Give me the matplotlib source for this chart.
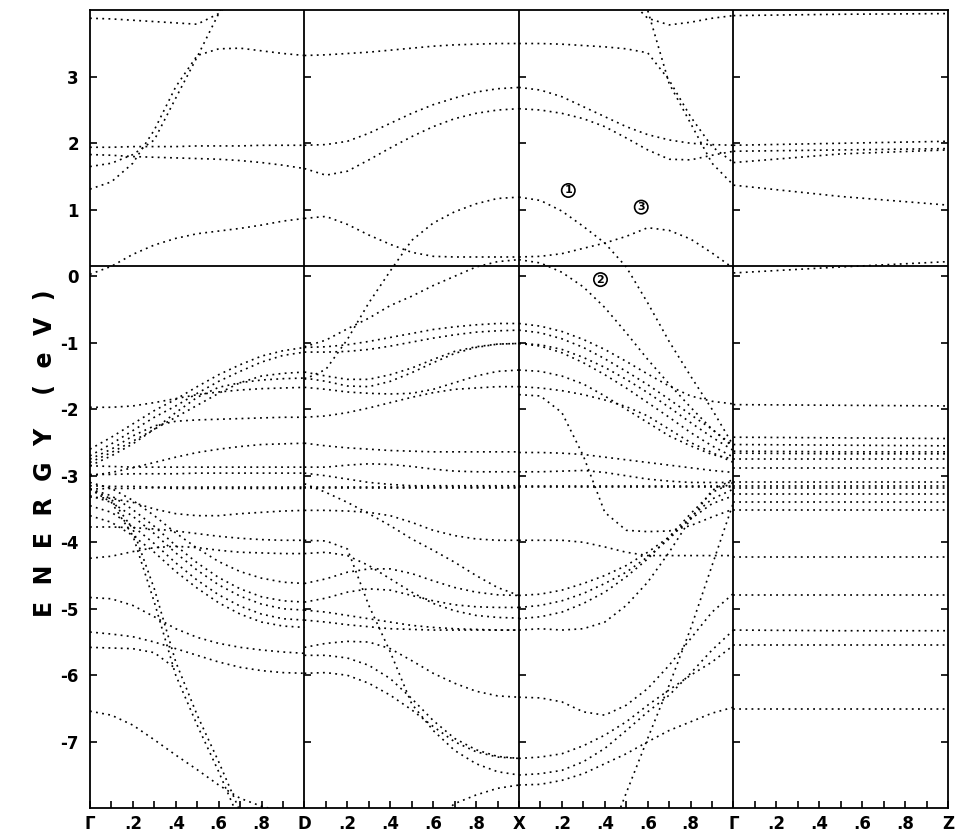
import numpy as np
import matplotlib
matplotlib.use("Agg")
import matplotlib.pyplot as plt

nan = np.nan

# symmetry points and tick labels along the path
panel_labels = ["Γ", "D", "X", "Γ", "Z"]
frac_labels = ["", ".2", "", ".4", "", ".6", "", ".8", ""]
e_ticks = [-7, -6, -5, -4, -3, -2, -1, 0, 1, 2, 3]
e_fermi = 0.15

# bands, energy (eV) at k = 0, .1, ... 1.0 of each branch
gd_bands = [
    [3.88, 3.87, 3.85, 3.83, 3.81, 3.79, 3.95, 4.3, nan, nan, nan],
    [1.94, 1.94, 1.95, 1.95, 1.95, 1.96, 1.96, 1.96, 1.97, 1.97, 1.97],
    [1.83, 1.82, 1.80, 1.79, 1.78, 1.77, 1.76, 1.74, 1.71, 1.67, 1.62],
    [1.65, 1.70, 1.83, 2.05, 2.68, 3.30, 3.95, 4.6, nan, nan, nan],
    [1.31, 1.42, 1.70, 2.20, 2.85, 3.32, 3.42, 3.43, 3.39, 3.35, 3.32],
    [0.03, 0.15, 0.33, 0.47, 0.57, 0.64, 0.68, 0.72, 0.77, 0.83, 0.87],
    [-2.60, -2.42, -2.22, -2.02, -1.85, -1.66, -1.48, -1.33, -1.20, -1.12, -1.07],
    [-2.70, -2.52, -2.32, -2.12, -1.95, -1.76, -1.58, -1.43, -1.29, -1.19, -1.14],
    [-2.80, -2.65, -2.48, -2.30, -2.12, -1.94, -1.76, -1.60, -1.50, -1.46, -1.44],
    [-2.85, -2.70, -2.52, -2.30, -2.05, -1.82, -1.67, -1.60, -1.56, -1.54, -1.53],
    [-1.97, -1.97, -1.95, -1.90, -1.84, -1.78, -1.74, -1.71, -1.69, -1.68, -1.67],
    [-2.75, -2.60, -2.40, -2.25, -2.18, -2.16, -2.15, -2.14, -2.13, -2.12, -2.12],
    [-3.00, -2.95, -2.88, -2.80, -2.72, -2.65, -2.60, -2.56, -2.53, -2.52, -2.51],
    [-2.85, -2.86, -2.87, -2.87, -2.87, -2.87, -2.87, -2.87, -2.87, -2.87, -2.87],
    [-2.98, -2.98, -2.97, -2.97, -2.97, -2.96, -2.96, -2.96, -2.96, -2.96, -2.96],
    [-3.15, -3.16, -3.16, -3.17, -3.17, -3.17, -3.17, -3.17, -3.17, -3.17, -3.17],
    [-3.20, -3.19, -3.19, -3.18, -3.19, -3.19, -3.19, -3.19, -3.19, -3.19, -3.19],
    [-3.32, -3.34, -3.40, -3.50, -3.57, -3.60, -3.60, -3.57, -3.55, -3.53, -3.52],
    [-3.77, -3.77, -3.78, -3.80, -3.83, -3.87, -3.91, -3.94, -3.96, -3.97, -3.97],
    [-4.24, -4.21, -4.14, -4.08, -4.06, -4.08, -4.12, -4.15, -4.16, -4.17, -4.17],
    [-3.10, -3.19, -3.37, -3.60, -3.86, -4.09, -4.29, -4.44, -4.54, -4.60, -4.62],
    [-3.20, -3.30, -3.51, -3.76, -4.05, -4.31, -4.53, -4.70, -4.82, -4.88, -4.90],
    [-3.30, -3.40, -3.61, -3.87, -4.16, -4.42, -4.64, -4.81, -4.93, -5.00, -5.02],
    [-3.45, -3.55, -3.76, -4.02, -4.31, -4.57, -4.79, -4.96, -5.08, -5.15, -5.17],
    [-3.60, -3.70, -3.90, -4.15, -4.44, -4.69, -4.91, -5.08, -5.20, -5.26, -5.28],
    [-4.83, -4.85, -4.95, -5.12, -5.30, -5.43, -5.52, -5.58, -5.62, -5.65, -5.67],
    [-5.35, -5.38, -5.42, -5.50, -5.60, -5.70, -5.80, -5.88, -5.93, -5.96, -5.97],
    [-5.58, -5.59, -5.60, -5.66, -5.90, nan, nan, nan, nan, nan, nan],
    [-3.20, -3.40, -3.90, -4.90, -6.00, -6.75, -7.45, -8.20, nan, nan, nan],
    [-3.20, -3.35, -3.80, -4.70, -5.80, -6.60, -7.30, -8.05, -8.60, nan, nan],
    [-6.54, -6.60, -6.75, -6.97, -7.20, -7.42, -7.65, -7.85, -7.97, -8.05, -8.10],
]

dx_bands = [
    [3.32, 3.33, 3.35, 3.37, 3.40, 3.43, 3.46, 3.48, 3.49, 3.50, 3.50],
    [1.97, 1.98, 2.03, 2.15, 2.30, 2.45, 2.58, 2.68, 2.77, 2.82, 2.84],
    [1.62, 1.52, 1.58, 1.75, 1.93, 2.10, 2.25, 2.37, 2.45, 2.50, 2.52],
    [0.87, 0.90, 0.78, 0.62, 0.48, 0.36, 0.30, 0.29, 0.29, 0.29, 0.29],
    [-1.55, -1.40, -0.95, -0.40, 0.08, 0.54, 0.80, 0.97, 1.09, 1.17, 1.19],
    [-1.06, -0.96, -0.79, -0.63, -0.44, -0.30, -0.14, 0.00, 0.14, 0.22, 0.25],
    [-1.07, -1.06, -1.03, -0.98, -0.92, -0.86, -0.80, -0.76, -0.73, -0.71, -0.71],
    [-1.14, -1.14, -1.13, -1.10, -1.05, -0.99, -0.93, -0.88, -0.84, -0.82, -0.81],
    [-1.44, -1.50, -1.55, -1.55, -1.48, -1.38, -1.25, -1.13, -1.06, -1.02, -1.01],
    [-1.53, -1.58, -1.65, -1.66, -1.58, -1.45, -1.30, -1.16, -1.07, -1.02, -1.01],
    [-1.67, -1.70, -1.74, -1.76, -1.77, -1.76, -1.70, -1.60, -1.50, -1.43, -1.41],
    [-2.12, -2.10, -2.05, -1.98, -1.90, -1.82, -1.75, -1.70, -1.68, -1.66, -1.66],
    [-2.51, -2.55, -2.58, -2.60, -2.62, -2.63, -2.64, -2.64, -2.64, -2.64, -2.64],
    [-2.87, -2.87, -2.84, -2.82, -2.83, -2.86, -2.90, -2.93, -2.94, -2.94, -2.94],
    [-2.96, -3.00, -3.05, -3.10, -3.13, -3.15, -3.15, -3.15, -3.15, -3.15, -3.15],
    [-3.17, -3.17, -3.17, -3.17, -3.17, -3.17, -3.17, -3.17, -3.17, -3.17, -3.17],
    [-3.19, -3.19, -3.19, -3.19, -3.19, -3.19, -3.19, -3.19, -3.19, -3.19, -3.19],
    [-3.52, -3.52, -3.53, -3.55, -3.60, -3.70, -3.82, -3.90, -3.95, -3.97, -3.97],
    [-3.12, -3.25, -3.40, -3.57, -3.75, -3.95, -4.12, -4.30, -4.50, -4.68, -4.80],
    [-3.97, -3.98, -4.10, -4.95, -5.65, -6.43, -6.83, -7.13, -7.33, -7.45, -7.50],
    [-4.17, -4.15, -4.20, -4.35, -4.55, -4.75, -4.92, -5.03, -5.10, -5.13, -5.14],
    [-4.62, -4.55, -4.45, -4.40, -4.40, -4.47, -4.58, -4.68, -4.75, -4.79, -4.80],
    [-4.90, -4.84, -4.75, -4.70, -4.72, -4.80, -4.88, -4.94, -4.97, -4.98, -4.98],
    [-5.02, -5.05, -5.10, -5.15, -5.20, -5.25, -5.28, -5.30, -5.31, -5.32, -5.32],
    [-5.17, -5.20, -5.24, -5.27, -5.30, -5.31, -5.32, -5.32, -5.32, -5.32, -5.32],
    [-5.58, -5.52, -5.49, -5.50, -5.60, -5.78, -5.97, -6.12, -6.24, -6.31, -6.33],
    [-5.70, -5.70, -5.74, -5.85, -6.05, -6.35, -6.68, -6.95, -7.12, -7.22, -7.25],
    [-5.97, -5.96, -6.00, -6.12, -6.30, -6.52, -6.77, -7.00, -7.15, -7.23, -7.25],
    [nan, nan, nan, nan, nan, nan, -8.20, -7.93, -7.80, -7.70, -7.65],
]

xg_bands = [
    [3.50, 3.50, 3.49, 3.47, 3.45, 3.42, 3.36, 2.95, 2.40, 1.95, 1.71],
    [nan, nan, nan, nan, nan, 5.00, 4.00, 2.90, 2.30, 1.70, 1.37],
    [nan, nan, nan, nan, nan, 4.20, 3.88, 3.78, 3.82, 3.88, 3.92],
    [2.84, 2.80, 2.70, 2.55, 2.40, 2.25, 2.13, 2.05, 2.00, 1.98, 1.97],
    [2.52, 2.50, 2.45, 2.37, 2.25, 2.08, 1.90, 1.76, 1.75, 1.82, 1.88],
    [0.29, 0.30, 0.34, 0.42, 0.50, 0.60, 0.73, 0.69, 0.56, 0.35, 0.12],
    [1.19, 1.14, 0.98, 0.75, 0.50, 0.14, -0.40, -0.98, -1.50, -2.00, -2.55],
    [0.25, 0.20, 0.06, -0.16, -0.47, -0.85, -1.25, -1.62, -1.97, -2.30, -2.57],
    [-0.71, -0.75, -0.83, -0.95, -1.10, -1.28, -1.47, -1.65, -1.80, -1.88, -1.92],
    [-0.81, -0.85, -0.94, -1.07, -1.24, -1.43, -1.63, -1.85, -2.08, -2.30, -2.55],
    [-1.01, -1.03, -1.10, -1.22, -1.37, -1.55, -1.75, -1.97, -2.20, -2.42, -2.62],
    [-1.01, -1.05, -1.15, -1.30, -1.48, -1.68, -1.90, -2.12, -2.35, -2.55, -2.72],
    [-1.41, -1.43, -1.50, -1.62, -1.80, -2.00, -2.20, -2.40, -2.55, -2.68, -2.75],
    [-1.66, -1.68, -1.72, -1.78, -1.86, -1.96, -2.10, -2.30, -2.50, -2.65, -2.80],
    [-1.78, -1.80, -2.05, -2.70, -3.55, -3.82, -3.84, -3.83, -3.75, -3.62, -3.50],
    [-2.65, -2.65, -2.66, -2.68, -2.72, -2.76, -2.80, -2.84, -2.88, -2.92, -2.95],
    [-2.94, -2.94, -2.93, -2.92, -2.95, -3.00, -3.05, -3.08, -3.10, -3.10, -3.10],
    [-3.15, -3.15, -3.15, -3.15, -3.15, -3.15, -3.15, -3.15, -3.15, -3.15, -3.15],
    [-3.17, -3.17, -3.17, -3.17, -3.17, -3.17, -3.17, -3.17, -3.17, -3.17, -3.17],
    [-3.97, -3.97, -3.97, -4.00, -4.07, -4.15, -4.20, -4.20, -4.20, -4.20, -4.20],
    [-4.80, -4.78, -4.72, -4.62, -4.50, -4.35, -4.15, -3.92, -3.65, -3.42, -3.30],
    [-4.98, -4.95, -4.88, -4.77, -4.62, -4.45, -4.22, -3.95, -3.62, -3.35, -3.20],
    [-5.15, -5.12, -5.05, -4.92, -4.75, -4.52, -4.25, -3.92, -3.57, -3.25, -3.10],
    [-5.32, -5.30, -5.32, -5.30, -5.20, -4.95, -4.60, -4.15, -3.65, -3.22, -3.05],
    [-6.33, -6.34, -6.40, -6.55, -6.60, -6.45, -6.20, -5.85, -5.45, -5.05, -4.77],
    [-7.25, -7.23, -7.18, -7.06, -6.90, -6.70, -6.45, -6.22, -6.00, -5.80, -5.55],
    [-7.50, -7.48, -7.43, -7.30, -7.10, -6.83, -6.55, -6.30, -5.97, -5.62, -5.32],
    [-7.65, -7.64, -7.58, -7.48, -7.33, -7.18, -7.00, -6.83, -6.70, -6.57, -6.48],
    [nan, nan, nan, nan, -8.60, -7.77, -6.95, -6.15, -5.30, -4.35, -3.40],
]

# Gamma -> Z branch is nearly flat: values at Gamma, middle, Z
gz_bands = [
    [3.92, 3.94, 3.95],
    [1.97, 2.00, 2.03],
    [1.88, 1.90, 1.92],
    [1.71, 1.84, 1.90],
    [1.37, 1.20, 1.07],
    [0.05, 0.14, 0.22],
    [-1.93, -1.94, -1.95],
    [-2.42, -2.43, -2.44],
    [-2.53, -2.54, -2.55],
    [-2.63, -2.64, -2.64],
    [-2.66, -2.67, -2.67],
    [-2.75, -2.75, -2.75],
    [-2.88, -2.88, -2.88],
    [-3.10, -3.10, -3.10],
    [-3.15, -3.15, -3.15],
    [-3.18, -3.18, -3.18],
    [-3.27, -3.27, -3.27],
    [-3.40, -3.40, -3.40],
    [-3.52, -3.52, -3.52],
    [-4.22, -4.22, -4.22],
    [-4.80, -4.80, -4.80],
    [-5.32, -5.33, -5.33],
    [-5.55, -5.55, -5.55],
    [-6.50, -6.50, -6.50],
]

all_panels = [gd_bands, dx_bands, xg_bands, gz_bands]

fig = plt.figure(figsize=(9.57, 8.35), dpi=100)
ax = fig.add_axes([0.094, 0.032, 0.8966, 0.9557])

dots = (0, (1.1, 2.6))
for i, bands in enumerate(all_panels):
    for band in bands:
        kk = i + np.linspace(0.0, 1.0, len(band))
        ax.plot(kk, band, color="black", lw=1.2, linestyle=dots)

ax.set_xlim(0, 4)
ax.set_ylim(-8.0, 4.0)

# branch separators and Fermi level
for i in (1, 2, 3):
    ax.axvline(i, color="black", lw=1.3)
    ax.plot([i] * len(e_ticks), e_ticks, ls="none", marker=1, ms=5, mew=1.2, color="black")
ax.axhline(e_fermi, color="black", lw=1.3)

# x ticks every 0.1 of a branch
xt, xl = [], []
for i in range(4):
    for j in range(10):
        xt.append(i + j / 10)
        xl.append(panel_labels[i] if j == 0 else frac_labels[j - 1])
xt.append(4.0)
xl.append(panel_labels[4])
ax.set_xticks(xt)
ax.set_xticklabels(xl)
ax.set_yticks(e_ticks)
ax.set_yticklabels([str(v) for v in e_ticks])
ax.tick_params(axis="both", direction="in", length=5, width=1.2, labelsize=12, pad=5)
ax.tick_params(axis="y", right=True, pad=8)
for lbl in ax.get_xticklabels() + ax.get_yticklabels():
    lbl.set_fontweight("bold")
for s in ax.spines.values():
    s.set_linewidth(1.3)

# circled labels
for txt, x, y in [("1", 2.23, 1.29), ("2", 2.38, -0.05), ("3", 2.57, 1.04)]:
    ax.text(x, y, txt, ha="center", va="center", fontsize=8, fontweight="bold",
            bbox=dict(boxstyle="circle,pad=0.15", fc="white", ec="black", lw=1.2))

fig.text(0.047, 0.457, "E  N  E  R  G  Y    (  e  V  )", rotation=90, ha="center", va="center",
         fontsize=17, fontweight="bold")

fig.savefig("out.png", dpi=100)
